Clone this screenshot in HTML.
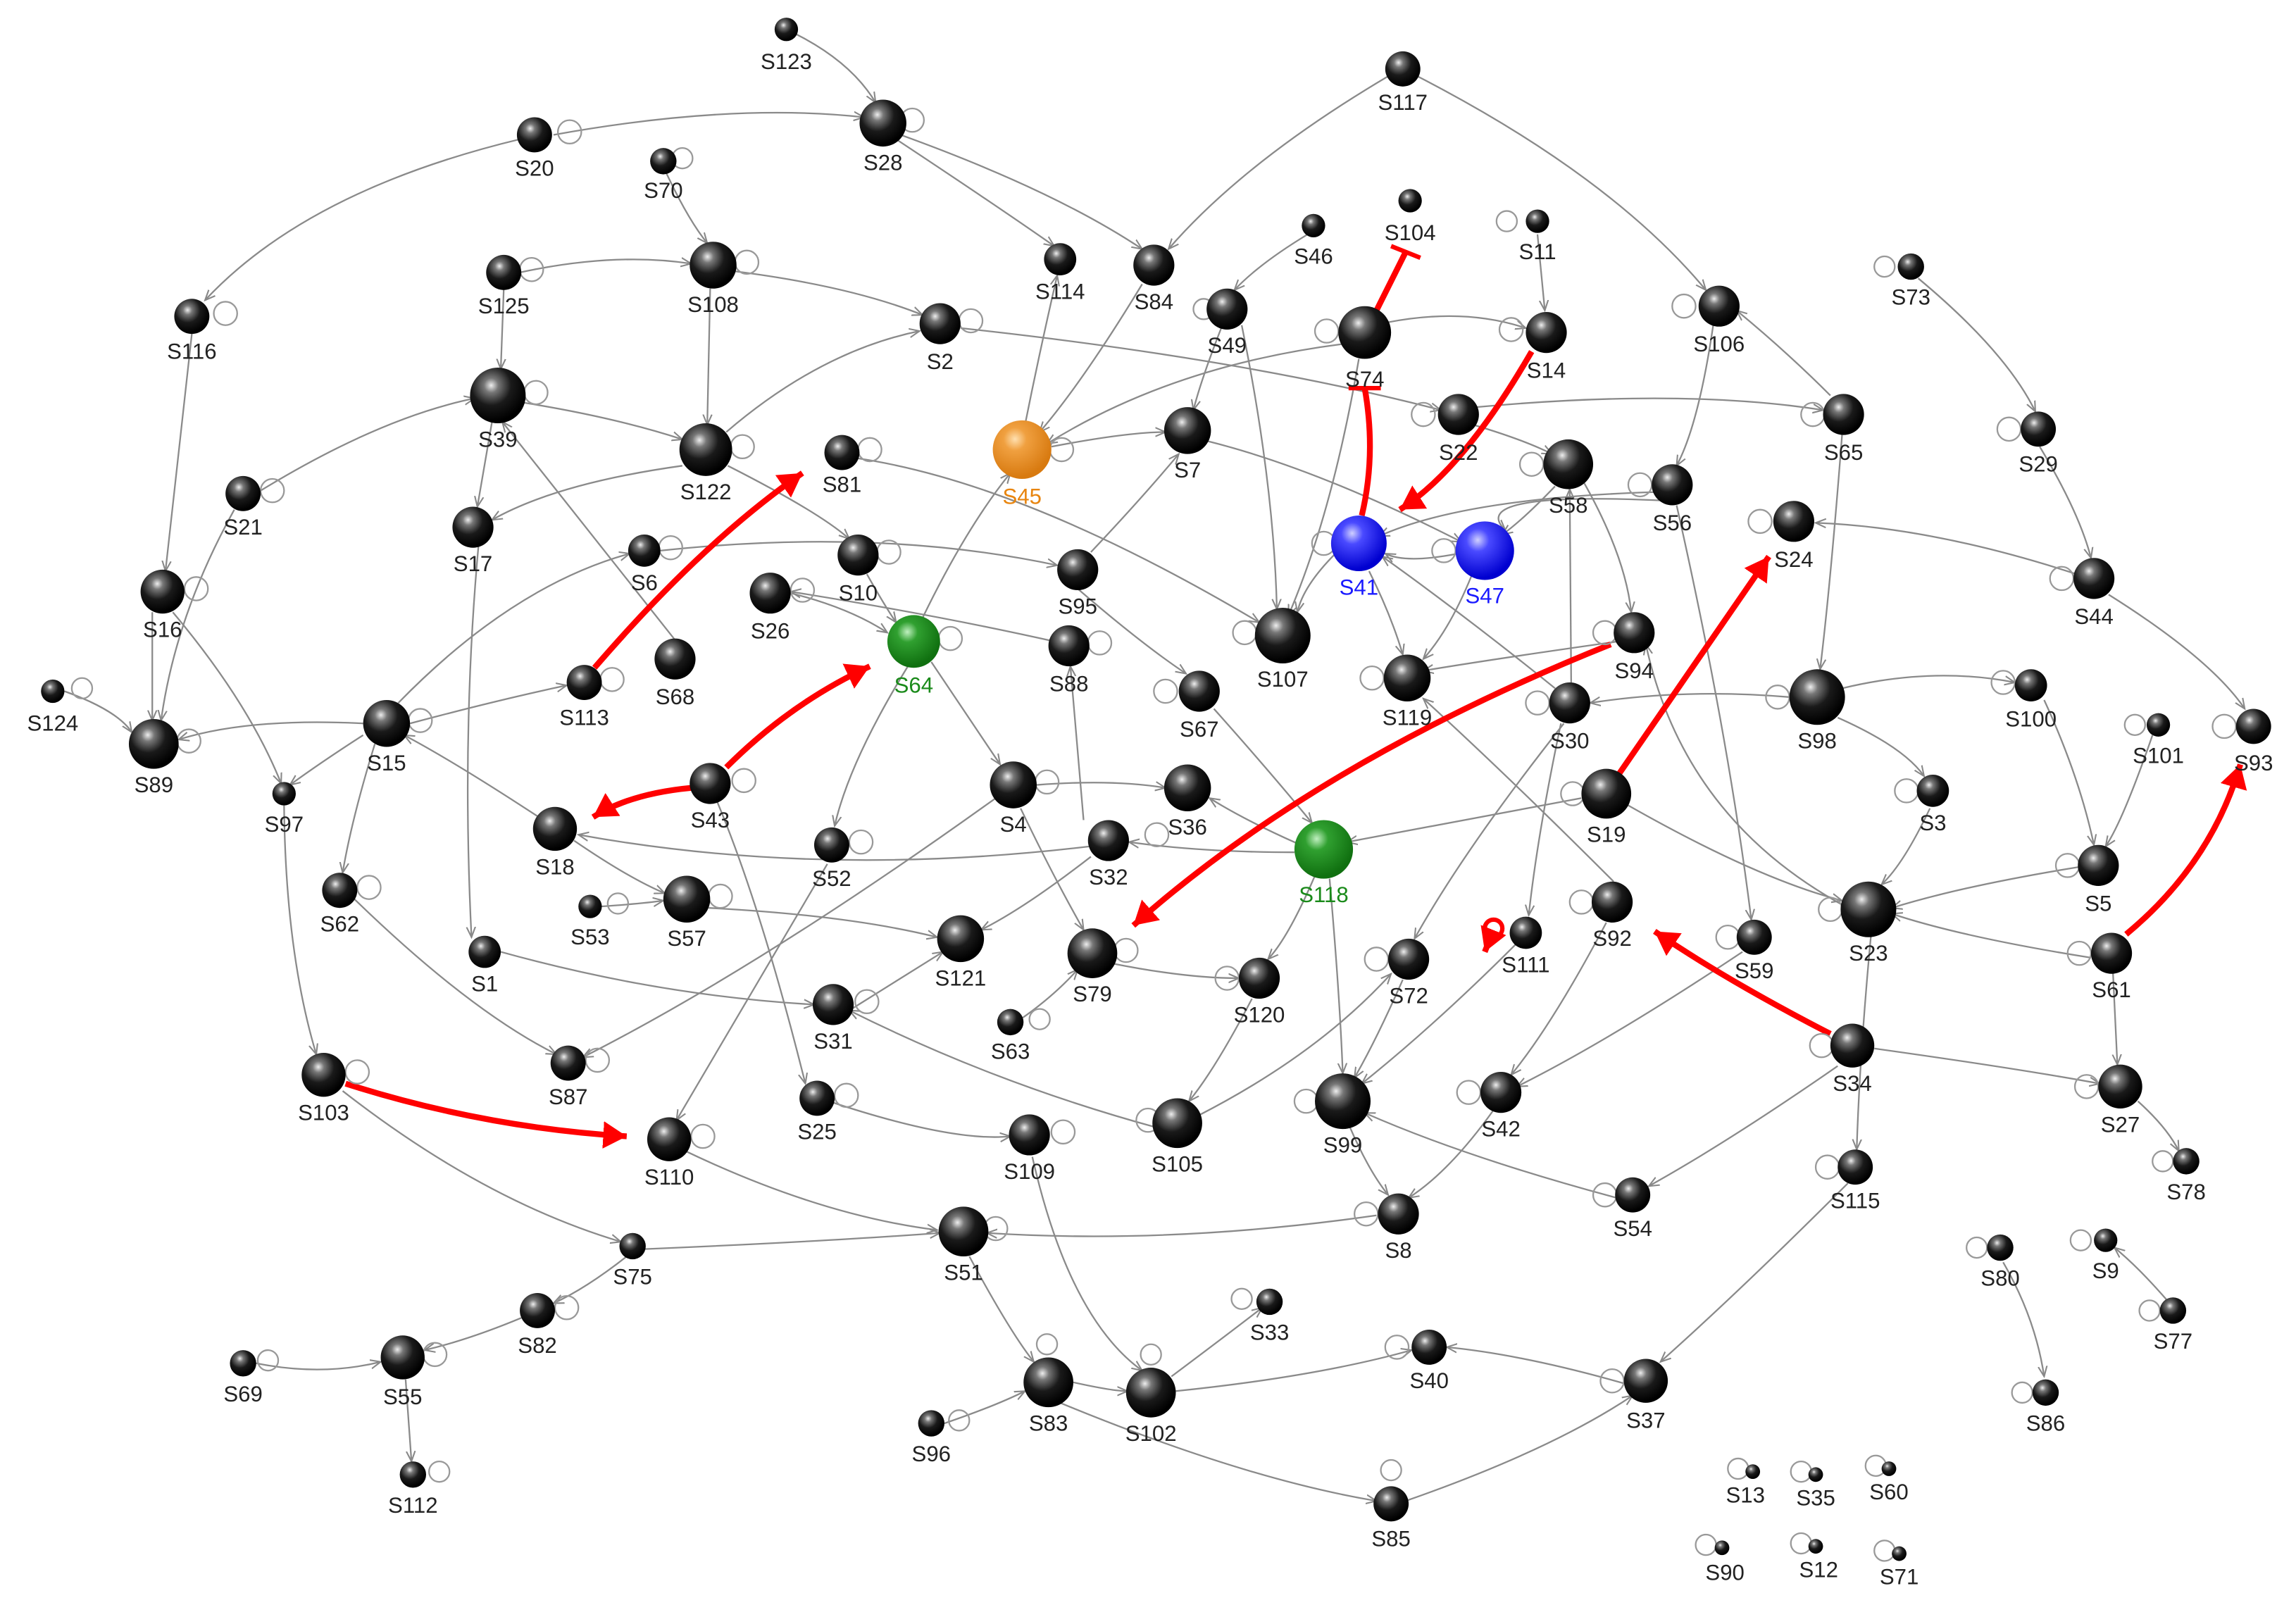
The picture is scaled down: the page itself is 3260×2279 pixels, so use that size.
<!DOCTYPE html>
<html><head><meta charset="utf-8"><style>
html,body{margin:0;padding:0;background:#fff;}
svg{display:block;}
text{font-family:"Liberation Sans",Arial,sans-serif;font-size:15px;fill:#222;text-anchor:middle;}
.e{stroke:#8a8a8a;stroke-width:1.1;fill:none;marker-end:url(#ga);}
.r{stroke:#f00;stroke-width:4;fill:none;}
.l{stroke:#999;stroke-width:1.1;fill:none;}
</style></head><body>
<svg width="3260" height="2279" viewBox="0 0 1568 1096" xmlns="http://www.w3.org/2000/svg">
<defs>
<radialGradient id="gk" cx="38%" cy="32%" r="65%"><stop offset="0" stop-color="#eee"/><stop offset="0.2" stop-color="#777"/><stop offset="0.55" stop-color="#1a1a1a"/><stop offset="1" stop-color="#000"/></radialGradient>
<radialGradient id="go" cx="38%" cy="32%" r="65%"><stop offset="0" stop-color="#ffe0b0"/><stop offset="0.3" stop-color="#f0a040"/><stop offset="1" stop-color="#d87a10"/></radialGradient>
<radialGradient id="gb" cx="38%" cy="32%" r="65%"><stop offset="0" stop-color="#d0d0ff"/><stop offset="0.3" stop-color="#4a4aff"/><stop offset="1" stop-color="#0000d0"/></radialGradient>
<radialGradient id="gg" cx="38%" cy="32%" r="65%"><stop offset="0" stop-color="#c0f0c0"/><stop offset="0.3" stop-color="#30a030"/><stop offset="1" stop-color="#107010"/></radialGradient>
<marker id="ga" markerWidth="8" markerHeight="8" refX="7" refY="4" orient="auto" markerUnits="userSpaceOnUse"><path d="M0,1 L7,4 L0,7" fill="none" stroke="#888"/></marker>
<marker id="ra" markerWidth="22" markerHeight="22" refX="4" refY="5" orient="auto" markerUnits="strokeWidth"><path d="M0,1.5 L6,5 L0,8.5 Z" fill="#f00" transform="translate(-2,0)"/></marker>
</defs>
<g>
<path class="e" d="M537,20 Q580,40 598,70"/>
<path class="e" d="M378,92 Q500,70 590,80"/>
<path class="e" d="M355,95 Q210,130 140,205"/>
<path class="e" d="M612,95 Q680,140 720,168"/>
<path class="e" d="M615,92 Q720,130 780,170"/>
<path class="e" d="M948,52 Q850,110 798,170"/>
<path class="e" d="M968,52 Q1100,120 1165,198"/>
<path class="e" d="M455,118 Q470,150 483,166"/>
<path class="e" d="M355,186 Q420,172 472,180"/>
<path class="e" d="M344,198 L342,252"/>
<path class="e" d="M500,185 Q580,195 630,215"/>
<path class="e" d="M485,197 L483,290"/>
<path class="e" d="M131,228 L113,390"/>
<path class="e" d="M178,335 Q260,285 324,272"/>
<path class="e" d="M160,348 Q120,420 110,492"/>
<path class="e" d="M336,288 L326,346"/>
<path class="e" d="M358,275 Q420,285 466,300"/>
<path class="e" d="M461,437 Q400,360 343,288"/>
<path class="e" d="M466,318 Q380,330 336,355"/>
<path class="e" d="M496,295 Q560,240 628,226"/>
<path class="e" d="M497,318 Q560,350 580,368"/>
<path class="e" d="M656,224 Q850,245 984,280"/>
<path class="e" d="M104,418 L104,492"/>
<path class="e" d="M118,418 Q170,480 192,535"/>
<path class="e" d="M248,494 Q170,490 122,505"/>
<path class="e" d="M44,472 Q80,485 90,500"/>
<path class="e" d="M272,480 Q350,400 430,378"/>
<path class="e" d="M280,494 Q340,478 387,468"/>
<path class="e" d="M256,508 Q240,560 234,596"/>
<path class="e" d="M248,502 Q220,520 198,536"/>
<path class="e" d="M368,558 Q310,520 276,502"/>
<path class="e" d="M586,313 Q700,330 860,425"/>
<path class="e" d="M451,376 Q600,360 722,386"/>
<path class="e" d="M592,392 Q605,415 612,425"/>
<path class="e" d="M540,405 Q580,415 606,432"/>
<path class="e" d="M720,438 Q640,420 540,404"/>
<path class="e" d="M630,422 Q660,360 690,323"/>
<path class="e" d="M620,455 Q580,520 570,564"/>
<path class="e" d="M636,452 Q665,495 683,522"/>
<path class="e" d="M490,548 Q520,620 550,740"/>
<path class="e" d="M392,574 Q430,600 454,610"/>
<path class="e" d="M484,620 Q580,625 640,640"/>
<path class="e" d="M744,578 Q560,600 395,570"/>
<path class="e" d="M697,552 Q720,600 740,635"/>
<path class="e" d="M680,545 Q520,660 398,722"/>
<path class="e" d="M708,536 Q760,532 796,538"/>
<path class="e" d="M886,576 Q850,560 826,545"/>
<path class="e" d="M884,582 Q820,582 771,575"/>
<path class="e" d="M745,585 Q700,620 670,635"/>
<path class="e" d="M740,560 Q735,500 731,455"/>
<path class="e" d="M718,305 Q770,295 796,295"/>
<path class="e" d="M700,290 Q710,240 722,188"/>
<path class="e" d="M780,194 Q740,260 710,295"/>
<path class="e" d="M916,235 Q800,250 715,303"/>
<path class="e" d="M824,301 Q900,320 998,370"/>
<path class="e" d="M745,377 Q780,340 805,310"/>
<path class="e" d="M834,224 Q820,260 815,280"/>
<path class="e" d="M848,222 Q870,330 872,416"/>
<path class="e" d="M893,160 Q860,180 843,198"/>
<path class="e" d="M948,220 Q1000,210 1042,224"/>
<path class="e" d="M928,245 Q910,350 880,420"/>
<path class="e" d="M1006,290 Q1040,300 1060,310"/>
<path class="e" d="M1008,278 Q1150,265 1245,280"/>
<path class="e" d="M1062,332 Q1040,355 1026,365"/>
<path class="e" d="M1082,330 Q1110,380 1114,418"/>
<path class="e" d="M1130,336 Q1000,340 942,366"/>
<path class="e" d="M1145,345 Q1180,500 1196,628"/>
<path class="e" d="M1170,222 Q1160,290 1145,318"/>
<path class="e" d="M1250,270 Q1220,240 1186,212"/>
<path class="e" d="M1258,297 Q1250,400 1243,457"/>
<path class="e" d="M912,378 Q890,400 886,418"/>
<path class="e" d="M935,390 Q950,420 958,447"/>
<path class="e" d="M1005,393 Q990,430 972,450"/>
<path class="e" d="M996,378 Q960,385 946,378"/>
<path class="e" d="M1062,470 Q1000,420 944,380"/>
<path class="e" d="M1073,466 L1072,334"/>
<path class="e" d="M1066,494 Q1050,570 1044,625"/>
<path class="e" d="M1068,494 Q1000,580 966,641"/>
<path class="e" d="M1222,476 Q1150,470 1086,480"/>
<path class="e" d="M1255,490 Q1300,510 1314,530"/>
<path class="e" d="M1258,470 Q1320,455 1376,466"/>
<path class="e" d="M1396,478 Q1420,530 1430,577"/>
<path class="e" d="M1470,502 Q1450,560 1438,578"/>
<path class="e" d="M1418,392 Q1320,360 1240,357"/>
<path class="e" d="M1440,406 Q1510,450 1533,484"/>
<path class="e" d="M1393,305 Q1420,350 1428,381"/>
<path class="e" d="M1310,190 Q1370,240 1390,281"/>
<path class="e" d="M1080,545 Q1000,560 920,575"/>
<path class="e" d="M1112,550 Q1200,600 1258,615"/>
<path class="e" d="M1105,438 Q1020,450 972,458"/>
<path class="e" d="M736,402 Q780,440 810,460"/>
<path class="e" d="M829,484 Q870,530 896,562"/>
<path class="e" d="M898,598 Q880,640 866,655"/>
<path class="e" d="M908,600 Q915,680 917,733"/>
<path class="e" d="M855,682 Q830,730 812,752"/>
<path class="e" d="M790,770 Q680,740 580,690"/>
<path class="e" d="M818,762 Q900,720 950,665"/>
<path class="e" d="M958,669 Q940,710 925,736"/>
<path class="e" d="M1035,645 Q980,700 930,740"/>
<path class="e" d="M1097,630 Q1060,700 1032,734"/>
<path class="e" d="M1102,602 Q1030,530 972,477"/>
<path class="e" d="M1255,728 Q1180,780 1126,810"/>
<path class="e" d="M1280,716 Q1380,730 1434,740"/>
<path class="e" d="M1278,636 Q1270,720 1268,785"/>
<path class="e" d="M1262,808 Q1190,880 1134,930"/>
<path class="e" d="M1428,654 Q1340,640 1292,624"/>
<path class="e" d="M1443,664 L1446,727"/>
<path class="e" d="M1420,592 Q1340,605 1292,620"/>
<path class="e" d="M1318,552 Q1300,590 1285,604"/>
<path class="e" d="M1460,752 Q1480,770 1488,786"/>
<path class="e" d="M1190,650 Q1100,710 1036,742"/>
<path class="e" d="M1020,758 Q990,800 962,818"/>
<path class="e" d="M940,830 Q800,850 674,842"/>
<path class="e" d="M922,770 Q935,800 948,816"/>
<path class="e" d="M1104,818 Q1000,790 932,760"/>
<path class="e" d="M194,550 Q195,650 216,720"/>
<path class="e" d="M234,745 Q330,820 424,848"/>
<path class="e" d="M468,786 Q560,830 640,840"/>
<path class="e" d="M440,853 Q560,848 642,842"/>
<path class="e" d="M565,590 Q500,700 462,765"/>
<path class="e" d="M428,858 Q400,880 378,890"/>
<path class="e" d="M356,900 Q320,915 290,922"/>
<path class="e" d="M175,931 Q220,940 260,930"/>
<path class="e" d="M277,942 L281,998"/>
<path class="e" d="M662,858 Q690,910 706,930"/>
<path class="e" d="M733,944 Q760,950 770,950"/>
<path class="e" d="M705,790 Q730,900 780,936"/>
<path class="e" d="M800,940 Q840,910 862,893"/>
<path class="e" d="M803,950 Q900,940 964,922"/>
<path class="e" d="M1110,945 Q1040,925 988,920"/>
<path class="e" d="M960,1025 Q1060,990 1115,953"/>
<path class="e" d="M724,958 Q850,1010 940,1025"/>
<path class="e" d="M645,972 Q680,960 700,950"/>
<path class="e" d="M566,752 Q650,780 690,776"/>
<path class="e" d="M327,370 Q315,500 322,640"/>
<path class="e" d="M342,650 Q450,680 556,686"/>
<path class="e" d="M240,612 Q320,690 380,720"/>
<path class="e" d="M1368,862 Q1390,900 1396,940"/>
<path class="e" d="M1480,888 Q1460,865 1444,852"/>
<path class="e" d="M580,690 Q620,665 644,650"/>
<path class="e" d="M760,658 Q810,668 846,668"/>
<path class="e" d="M697,696 Q720,680 736,662"/>
<path class="e" d="M410,619 Q440,617 453,615"/>
<path class="e" d="M1050,160 L1055,212"/>
<path class="e" d="M1140,342 Q1000,335 1028,362"/>
<path class="e" d="M1262,620 Q1150,560 1124,440"/>
</g>
<!-- red edges -->
<g>
<path class="r" d="M406,456 Q480,370 548,323" marker-end="url(#ra)"/>
<path class="r" d="M496,524 Q540,480 594,455" marker-end="url(#ra)"/>
<path class="r" d="M472,538 Q430,542 405,558" marker-end="url(#ra)"/>
<path class="r" d="M1100,440 Q900,520 774,632" marker-end="url(#ra)"/>
<path class="r" d="M1106,528 Q1160,450 1208,380" marker-end="url(#ra)"/>
<path class="r" d="M1046,240 Q1000,320 956,348" marker-end="url(#ra)"/>
<path class="r" d="M932,265 Q940,310 930,352"/>
<line x1="921" y1="265" x2="943" y2="265" stroke="#f00" stroke-width="3"/>
<path class="r" d="M940,212 L960,172"/>
<line x1="950" y1="168" x2="970" y2="176" stroke="#f00" stroke-width="3"/>
<path class="r" d="M236,740 Q330,770 428,776" marker-end="url(#ra)"/>
<path class="r" d="M1250,706 Q1180,670 1130,636" marker-end="url(#ra)"/>
<path class="r" d="M1452,638 Q1510,590 1530,522" marker-end="url(#ra)"/>
<circle cx="1020" cy="634" r="6" fill="none" stroke="#f00" stroke-width="3"/>
<path class="r" d="M1018,640 L1014,650" marker-end="url(#ra)"/>
</g>
<!-- self loops -->
<g class="l">
<circle cx="389" cy="90" r="8"/><circle cx="623" cy="82" r="8"/><circle cx="466" cy="108" r="7"/>
<circle cx="363" cy="184" r="8"/><circle cx="510" cy="179" r="8"/><circle cx="154" cy="214" r="8"/>
<circle cx="663" cy="219" r="8"/><circle cx="366" cy="268" r="8"/><circle cx="507" cy="305" r="8"/>
<circle cx="594" cy="307" r="8"/><circle cx="725" cy="307" r="8"/><circle cx="186" cy="335" r="8"/>
<circle cx="134" cy="402" r="8"/><circle cx="458" cy="374" r="8"/><circle cx="607" cy="377" r="8"/>
<circle cx="548" cy="403" r="8"/><circle cx="649" cy="436" r="8"/><circle cx="751" cy="439" r="8"/>
<circle cx="56" cy="470" r="7"/><circle cx="129" cy="506" r="8"/><circle cx="287" cy="492" r="8"/>
<circle cx="418" cy="464" r="8"/><circle cx="508" cy="533" r="8"/><circle cx="715" cy="534" r="8"/>
<circle cx="588" cy="575" r="8"/><circle cx="252" cy="606" r="8"/><circle cx="422" cy="617" r="7"/>
<circle cx="492" cy="612" r="8"/><circle cx="769" cy="649" r="8"/><circle cx="710" cy="696" r="7"/>
<circle cx="592" cy="684" r="8"/><circle cx="244" cy="732" r="8"/><circle cx="408" cy="724" r="8"/>
<circle cx="480" cy="776" r="8"/><circle cx="578" cy="748" r="8"/><circle cx="726" cy="773" r="8"/>
<circle cx="183" cy="929" r="7"/><circle cx="297" cy="925" r="8"/><circle cx="387" cy="893" r="8"/>
<circle cx="300" cy="1005" r="7"/><circle cx="655" cy="970" r="7"/><circle cx="715" cy="918" r="7"/>
<circle cx="786" cy="925" r="7"/><circle cx="848" cy="887" r="7"/><circle cx="950" cy="1004" r="7"/>
<circle cx="790" cy="570" r="8"/><circle cx="796" cy="472" r="8"/><circle cx="784" cy="765" r="8"/>
<circle cx="680" cy="839" r="8"/><circle cx="906" cy="226" r="8"/><circle cx="972" cy="283" r="8"/>
<circle cx="1032" cy="225" r="8"/><circle cx="1046" cy="317" r="8"/><circle cx="1120" cy="331" r="8"/>
<circle cx="1150" cy="209" r="8"/><circle cx="1238" cy="283" r="8"/><circle cx="1029" cy="151" r="7"/>
<circle cx="1287" cy="182" r="7"/><circle cx="1372" cy="293" r="8"/><circle cx="1202" cy="356" r="8"/>
<circle cx="1408" cy="395" r="8"/><circle cx="904" cy="371" r="8"/><circle cx="986" cy="376" r="8"/>
<circle cx="850" cy="432" r="8"/><circle cx="937" cy="463" r="8"/><circle cx="1096" cy="432" r="8"/>
<circle cx="1050" cy="480" r="8"/><circle cx="1214" cy="476" r="8"/><circle cx="1368" cy="466" r="8"/>
<circle cx="1458" cy="495" r="7"/><circle cx="1519" cy="496" r="8"/><circle cx="1074" cy="542" r="8"/>
<circle cx="1302" cy="540" r="8"/><circle cx="1412" cy="591" r="8"/><circle cx="1080" cy="616" r="8"/>
<circle cx="1180" cy="640" r="8"/><circle cx="1250" cy="621" r="8"/><circle cx="1420" cy="651" r="8"/>
<circle cx="940" cy="655" r="8"/><circle cx="892" cy="752" r="8"/><circle cx="1003" cy="746" r="8"/>
<circle cx="1244" cy="714" r="8"/><circle cx="1425" cy="742" r="8"/><circle cx="1248" cy="797" r="8"/>
<circle cx="1477" cy="793" r="7"/><circle cx="1096" cy="816" r="8"/><circle cx="933" cy="829" r="8"/>
<circle cx="1350" cy="852" r="7"/><circle cx="1421" cy="847" r="7"/><circle cx="1468" cy="895" r="7"/>
<circle cx="954" cy="920" r="8"/><circle cx="1101" cy="943" r="8"/><circle cx="1381" cy="951" r="7"/>
<circle cx="1187" cy="1003" r="7"/><circle cx="1230" cy="1005" r="7"/><circle cx="1281" cy="1001" r="7"/>
<circle cx="1165" cy="1055" r="7"/><circle cx="1230" cy="1054" r="7"/><circle cx="1287" cy="1059" r="7"/>
<circle cx="838" cy="668" r="8"/><circle cx="822" cy="211" r="7"/>
</g>
<!-- nodes -->
<g fill="url(#gk)">
<circle cx="537" cy="20" r="8"/><circle cx="603" cy="84" r="16"/><circle cx="365" cy="92" r="12"/>
<circle cx="453" cy="110" r="9"/><circle cx="344" cy="186" r="12"/><circle cx="487" cy="181" r="16"/>
<circle cx="724" cy="177" r="11"/><circle cx="788" cy="181" r="14"/><circle cx="958" cy="47" r="12"/>
<circle cx="963" cy="137" r="8"/><circle cx="897" cy="154" r="8"/><circle cx="1050" cy="151" r="8"/>
<circle cx="838" cy="211" r="14"/><circle cx="932" cy="227" r="18"/><circle cx="1056" cy="227" r="14"/>
<circle cx="1174" cy="209" r="14"/><circle cx="1305" cy="182" r="9"/><circle cx="131" cy="216" r="12"/>
<circle cx="642" cy="221" r="14"/><circle cx="340" cy="270" r="19"/><circle cx="482" cy="307" r="18"/>
<circle cx="575" cy="309" r="12"/><circle cx="811" cy="294" r="16"/><circle cx="996" cy="283" r="14"/>
<circle cx="1259" cy="283" r="14"/><circle cx="1392" cy="293" r="12"/><circle cx="1071" cy="317" r="17"/>
<circle cx="1142" cy="331" r="14"/><circle cx="166" cy="337" r="12"/><circle cx="323" cy="360" r="14"/>
<circle cx="1225" cy="356" r="14"/><circle cx="440" cy="376" r="11"/><circle cx="586" cy="379" r="14"/>
<circle cx="736" cy="389" r="14"/><circle cx="1430" cy="395" r="14"/><circle cx="111" cy="404" r="15"/>
<circle cx="526" cy="405" r="14"/><circle cx="730" cy="441" r="14"/><circle cx="876" cy="434" r="19"/>
<circle cx="1116" cy="432" r="14"/><circle cx="461" cy="450" r="14"/><circle cx="819" cy="472" r="14"/>
<circle cx="961" cy="463" r="16"/><circle cx="1072" cy="480" r="14"/><circle cx="1241" cy="476" r="19"/>
<circle cx="1387" cy="468" r="11"/><circle cx="1474" cy="495" r="8"/><circle cx="1539" cy="496" r="12"/>
<circle cx="36" cy="472" r="8"/><circle cx="399" cy="466" r="12"/><circle cx="105" cy="508" r="17"/>
<circle cx="264" cy="494" r="16"/><circle cx="194" cy="542" r="8"/><circle cx="485" cy="535" r="14"/>
<circle cx="692" cy="536" r="16"/><circle cx="811" cy="538" r="16"/><circle cx="1097" cy="542" r="17"/>
<circle cx="1320" cy="540" r="11"/><circle cx="379" cy="566" r="15"/><circle cx="568" cy="577" r="12"/>
<circle cx="757" cy="574" r="14"/><circle cx="1433" cy="591" r="14"/><circle cx="232" cy="608" r="12"/>
<circle cx="403" cy="619" r="8"/><circle cx="469" cy="614" r="16"/><circle cx="1101" cy="616" r="14"/>
<circle cx="1198" cy="640" r="12"/><circle cx="1276" cy="621" r="19"/><circle cx="1042" cy="637" r="11"/>
<circle cx="331" cy="650" r="11"/><circle cx="656" cy="641" r="16"/><circle cx="746" cy="651" r="17"/>
<circle cx="1442" cy="651" r="14"/><circle cx="962" cy="655" r="14"/><circle cx="860" cy="668" r="14"/>
<circle cx="569" cy="686" r="14"/><circle cx="690" cy="698" r="9"/><circle cx="221" cy="734" r="15"/>
<circle cx="388" cy="726" r="12"/><circle cx="1265" cy="714" r="15"/><circle cx="917" cy="752" r="19"/>
<circle cx="1025" cy="746" r="14"/><circle cx="1448" cy="742" r="15"/><circle cx="558" cy="750" r="12"/>
<circle cx="457" cy="778" r="15"/><circle cx="703" cy="775" r="14"/><circle cx="804" cy="767" r="17"/>
<circle cx="1267" cy="797" r="12"/><circle cx="1493" cy="793" r="9"/><circle cx="1115" cy="816" r="12"/>
<circle cx="955" cy="829" r="14"/><circle cx="658" cy="841" r="17"/><circle cx="432" cy="851" r="9"/>
<circle cx="1366" cy="852" r="9"/><circle cx="1438" cy="847" r="8"/><circle cx="1484" cy="895" r="9"/>
<circle cx="867" cy="889" r="9"/><circle cx="367" cy="895" r="12"/><circle cx="275" cy="927" r="15"/>
<circle cx="166" cy="931" r="9"/><circle cx="716" cy="944" r="17"/><circle cx="786" cy="951" r="17"/>
<circle cx="976" cy="920" r="12"/><circle cx="1124" cy="943" r="15"/><circle cx="1397" cy="951" r="9"/>
<circle cx="636" cy="972" r="9"/><circle cx="282" cy="1007" r="9"/><circle cx="950" cy="1027" r="12"/>
<circle cx="1197" cy="1005" r="5"/><circle cx="1240" cy="1007" r="5"/><circle cx="1290" cy="1003" r="5"/>
<circle cx="1176" cy="1057" r="5"/><circle cx="1240" cy="1056" r="5"/><circle cx="1297" cy="1061" r="5"/>
</g>
<circle cx="698" cy="307" r="20" fill="url(#go)"/>
<circle cx="928" cy="371" r="19" fill="url(#gb)"/>
<circle cx="1014" cy="376" r="20" fill="url(#gb)"/>
<circle cx="624" cy="438" r="18" fill="url(#gg)"/>
<circle cx="904" cy="580" r="20" fill="url(#gg)"/>
<!-- labels -->
<g>
<text x="537" y="47">S123</text><text x="603" y="116">S28</text><text x="365" y="120">S20</text>
<text x="453" y="135">S70</text><text x="344" y="214">S125</text><text x="487" y="213">S108</text>
<text x="724" y="204">S114</text><text x="788" y="211">S84</text><text x="958" y="75">S117</text>
<text x="963" y="164">S104</text><text x="897" y="180">S46</text><text x="1050" y="177">S11</text>
<text x="838" y="241">S49</text><text x="932" y="264">S74</text><text x="1056" y="258">S14</text>
<text x="1174" y="240">S106</text><text x="1305" y="208">S73</text><text x="131" y="245">S116</text>
<text x="642" y="252">S2</text><text x="340" y="305">S39</text><text x="482" y="341">S122</text>
<text x="575" y="336">S81</text><text x="811" y="326">S7</text><text x="996" y="314">S22</text>
<text x="1259" y="314">S65</text><text x="1392" y="322">S29</text><text x="1071" y="350">S58</text>
<text x="1142" y="362">S56</text><text x="166" y="365">S21</text><text x="323" y="390">S17</text>
<text x="1225" y="387">S24</text><text x="440" y="403">S6</text><text x="586" y="410">S10</text>
<text x="736" y="419">S95</text><text x="1430" y="426">S44</text><text x="111" y="435">S16</text>
<text x="526" y="436">S26</text><text x="730" y="472">S88</text><text x="876" y="469">S107</text>
<text x="1116" y="463">S94</text><text x="461" y="481">S68</text><text x="819" y="503">S67</text>
<text x="961" y="495">S119</text><text x="1072" y="511">S30</text><text x="1241" y="511">S98</text>
<text x="1387" y="496">S100</text><text x="1474" y="521">S101</text><text x="1539" y="526">S93</text>
<text x="36" y="499">S124</text><text x="399" y="495">S113</text><text x="105" y="541">S89</text>
<text x="264" y="526">S15</text><text x="194" y="568">S97</text><text x="485" y="565">S43</text>
<text x="692" y="568">S4</text><text x="811" y="570">S36</text><text x="1097" y="575">S19</text>
<text x="1320" y="567">S3</text><text x="379" y="597">S18</text><text x="568" y="605">S52</text>
<text x="757" y="604">S32</text><text x="1433" y="622">S5</text><text x="232" y="636">S62</text>
<text x="403" y="645">S53</text><text x="469" y="646">S57</text><text x="1101" y="646">S92</text>
<text x="1198" y="668">S59</text><text x="1276" y="656">S23</text><text x="1042" y="664">S111</text>
<text x="331" y="677">S1</text><text x="656" y="673">S121</text><text x="746" y="684">S79</text>
<text x="1442" y="681">S61</text><text x="962" y="685">S72</text><text x="860" y="698">S120</text>
<text x="569" y="716">S31</text><text x="690" y="723">S63</text><text x="221" y="765">S103</text>
<text x="388" y="754">S87</text><text x="1265" y="745">S34</text><text x="917" y="787">S99</text>
<text x="1025" y="776">S42</text><text x="1448" y="773">S27</text><text x="558" y="778">S25</text>
<text x="457" y="809">S110</text><text x="703" y="805">S109</text><text x="804" y="800">S105</text>
<text x="1267" y="825">S115</text><text x="1493" y="819">S78</text><text x="1115" y="844">S54</text>
<text x="955" y="859">S8</text><text x="658" y="874">S51</text><text x="432" y="877">S75</text>
<text x="1366" y="878">S80</text><text x="1438" y="873">S9</text><text x="1484" y="921">S77</text>
<text x="867" y="915">S33</text><text x="367" y="924">S82</text><text x="275" y="959">S55</text>
<text x="166" y="957">S69</text><text x="716" y="977">S83</text><text x="786" y="984">S102</text>
<text x="976" y="948">S40</text><text x="1124" y="975">S37</text><text x="1397" y="977">S86</text>
<text x="636" y="998">S96</text><text x="282" y="1033">S112</text><text x="950" y="1056">S85</text>
<text x="1192" y="1026">S13</text><text x="1240" y="1028">S35</text><text x="1290" y="1024">S60</text>
<text x="1178" y="1079">S90</text><text x="1242" y="1077">S12</text><text x="1297" y="1082">S71</text>
<text x="698" y="344" style="fill:#e8850f">S45</text>
<text x="928" y="406" style="fill:#1a1aff">S41</text>
<text x="1014" y="412" style="fill:#1a1aff">S47</text>
<text x="624" y="473" style="fill:#1a8a1a">S64</text>
<text x="904" y="616" style="fill:#1a8a1a">S118</text>
</g>
</svg>
</body></html>
